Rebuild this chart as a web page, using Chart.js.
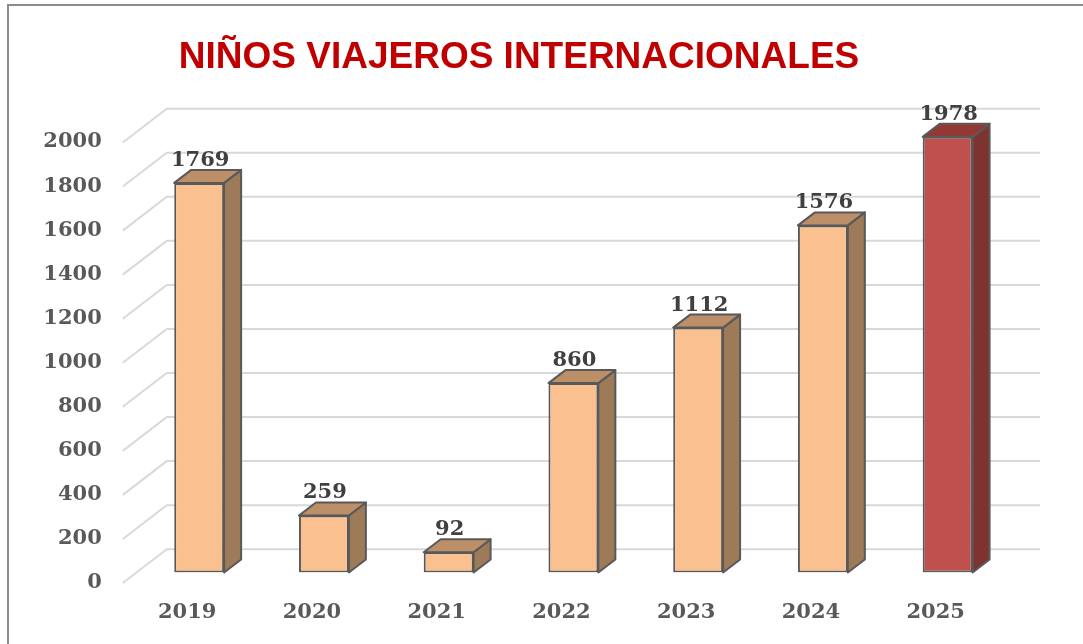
<!DOCTYPE html>
<html>
<head>
<meta charset="utf-8">
<script src="https://cdn.jsdelivr.net/npm/chart.js@4.4.1/dist/chart.umd.min.js"></script>
<style>
    html, body { margin: 0; padding: 0; background: #fff; }
    .wrap { position: relative; width: 1083px; height: 644px; overflow: hidden; }
    .frame { position: absolute; left: 7px; top: 4px; width: 1100px; height: 700px; border-left: 2px solid #8c8c8c; border-top: 2px solid #8c8c8c; }
    canvas { position: absolute; left: 0; top: 0; }
</style>
</head>
<body>
<div class="wrap">
    <div class="frame"></div>
    <canvas id="ninos_graph" width="1083" height="644"></canvas>
</div>
<script>
const years = ['2019', '2020', '2021', '2022', '2023', '2024', '2025'];
const ninos = [1769, 259, 92, 860, 1112, 1576, 1978];
const frontColors = ['#FAC090', '#FAC090', '#FAC090', '#FAC090', '#FAC090', '#FAC090', '#C0504D'];
const sideColors = ['#9E7B58', '#9E7B58', '#9E7B58', '#9E7B58', '#9E7B58', '#9E7B58', '#7E3331'];
const topColors = ['#BC8F69', '#BC8F69', '#BC8F69', '#BC8F69', '#BC8F69', '#BC8F69', '#943836'];
const yTicks = [0, 200, 400, 600, 800, 1000, 1200, 1400, 1600, 1800, 2000];

// depth of the bars and of the back wall
const barDx = 17, barDy = 13;
const floorFront = { dx: -14, dy: 10.5 };
const wallBack = { dx: 30, dy: -23.3 };

const numFont = 'bold 21px "DejaVu Serif"';

// back wall gridlines + the diagonal lines on the left side wall
const wallPlugin = {
    id: 'wall3d',
    beforeDatasetsDraw(chart) {
        const ctx = chart.ctx;
        const y = chart.scales.y;
        const area = chart.chartArea;
        ctx.save();
        ctx.strokeStyle = '#D9D9D9';
        ctx.lineWidth = 2;
        yTicks.forEach(function (v) {
            const py = y.getPixelForValue(v);
            ctx.beginPath();
            ctx.moveTo(area.left + floorFront.dx, py + floorFront.dy);
            ctx.lineTo(area.left + wallBack.dx, py + wallBack.dy);
            ctx.lineTo(area.right + wallBack.dx, py + wallBack.dy);
            ctx.stroke();
        });
        ctx.restore();
    }
};

// side and top faces of the bars, then the value labels
const boxPlugin = {
    id: 'box3d',
    afterDatasetsDraw(chart) {
        const ctx = chart.ctx;
        const meta = chart.getDatasetMeta(0);
        ctx.save();
        ctx.lineWidth = 2;
        ctx.lineJoin = 'round';
        ctx.strokeStyle = '#595959';
        meta.data.forEach(function (bar, i) {
            const p = bar.getProps(['x', 'y', 'base', 'width'], true);
            const l = p.x - p.width / 2;
            const r = p.x + p.width / 2;
            // side
            ctx.beginPath();
            ctx.moveTo(r, p.y);
            ctx.lineTo(r + barDx, p.y - barDy);
            ctx.lineTo(r + barDx, p.base - barDy);
            ctx.lineTo(r, p.base);
            ctx.closePath();
            ctx.fillStyle = sideColors[i];
            ctx.fill();
            ctx.stroke();
            // top
            ctx.beginPath();
            ctx.moveTo(l, p.y);
            ctx.lineTo(l + barDx, p.y - barDy);
            ctx.lineTo(r + barDx, p.y - barDy);
            ctx.lineTo(r, p.y);
            ctx.closePath();
            ctx.fillStyle = topColors[i];
            ctx.fill();
            ctx.stroke();
        });
        ctx.font = numFont;
        ctx.fillStyle = '#404040';
        ctx.textAlign = 'center';
        ctx.textBaseline = 'alphabetic';
        meta.data.forEach(function (bar, i) {
            const p = bar.getProps(['x', 'y'], true);
            ctx.fillText(String(ninos[i]), p.x + 1, p.y - barDy - 4);
        });
        ctx.restore();
    }
};

new Chart(document.getElementById('ninos_graph'), {
    type: 'bar',
    data: {
        labels: years,
        datasets: [{
            label: 'Niños viajeros',
            data: ninos,
            backgroundColor: frontColors,
            borderColor: '#595959',
            borderWidth: 2,
            borderSkipped: false,
            categoryPercentage: 0.8,
            barPercentage: 0.5,
        }]
    },
    options: {
        responsive: false,
        animation: false,
        layout: {
            padding: { left: 28, right: 73, top: 10, bottom: 0 }
        },
        plugins: {
            legend: { display: false },
            tooltip: { enabled: false },
            title: {
                display: true,
                text: 'NIÑOS VIAJEROS INTERNACIONALES',
                color: '#C00000',
                font: { family: '"Liberation Sans", Arial', size: 37, weight: 'bold' },
                padding: { top: 26, bottom: 51.6 }
            }
        },
        scales: {
            y: {
                min: 0,
                max: 2000,
                afterFit: function (scale) { scale.width = 108.8; },
                afterBuildTicks: function (scale) {
                    scale.ticks = yTicks.map(function (v) { return { value: v }; });
                },
                grid: { display: false, drawTicks: false },
                border: { display: false },
                ticks: {
                    padding: 35,
                    labelOffset: 10,
                    color: '#595959',
                    font: { family: '"DejaVu Serif"', size: 21, weight: 'bold' },
                    callback: function (value) { return String(value); }
                }
            },
            x: {
                afterFit: function (scale) { scale.height = 71.5; },
                grid: { display: false, drawTicks: false },
                border: { display: false },
                ticks: {
                    padding: 27,
                    labelOffset: -12,
                    maxRotation: 0,
                    color: '#595959',
                    font: { family: '"DejaVu Serif"', size: 21, weight: 'bold' }
                }
            }
        }
    },
    plugins: [wallPlugin, boxPlugin]
});
</script>
</body>
</html>
